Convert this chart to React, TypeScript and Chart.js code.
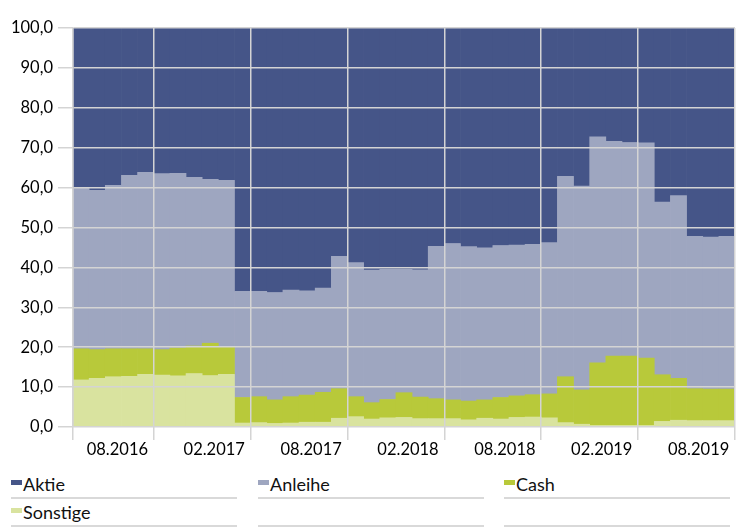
import React, { useEffect, useRef } from "react";
import { Chart, registerables } from "chart.js";

Chart.register(...registerables);

const months = [
  "06.2016", "07.2016", "08.2016", "09.2016", "10.2016", "11.2016", "12.2016",
  "01.2017", "02.2017", "03.2017", "04.2017", "05.2017", "06.2017", "07.2017", "08.2017", "09.2017", "10.2017", "11.2017", "12.2017",
  "01.2018", "02.2018", "03.2018", "04.2018", "05.2018", "06.2018", "07.2018", "08.2018", "09.2018", "10.2018", "11.2018", "12.2018",
  "01.2019", "02.2019", "03.2019", "04.2019", "05.2019", "06.2019", "07.2019", "08.2019", "09.2019", "10.2019",
];

const tickLabels = ["08.2016", "02.2017", "08.2017", "02.2018", "08.2018", "02.2019", "08.2019"];
const gridMonths = ["06.2016", "11.2016", "05.2017", "11.2017", "05.2018", "11.2018", "05.2019"];

const sonstige = [11.8, 12.2, 12.6, 12.7, 13.2, 13.0, 12.8, 13.4, 12.9, 13.2,
  1.0, 1.1, 0.9, 1.0, 1.2, 1.2, 2.2, 2.6, 2.0, 2.3, 2.4, 2.1,
  2.1, 2.1, 1.8, 2.2, 2.0, 2.4, 2.5, 2.3,
  1.1, 0.7, 0.4, 0.4, 0.4, 0.4, 1.4, 1.7, 1.6, 1.6, 1.6];
const cash = [7.8, 7.2, 7.0, 6.9, 6.4, 6.4, 7.0, 6.9, 8.1, 6.8,
  6.4, 6.5, 5.9, 6.6, 6.8, 7.5, 7.4, 5.0, 4.1, 4.6, 6.2, 5.4,
  5.0, 4.7, 4.7, 4.6, 5.4, 5.4, 5.6, 6.0,
  11.5, 8.6, 15.7, 17.4, 17.4, 16.9, 11.7, 10.5, 8.0, 7.9, 7.9];
const anleihe = [40.4, 39.9, 41.0, 43.5, 44.2, 44.1, 43.8, 42.3, 41.1, 41.8,
  26.6, 26.4, 26.9, 26.7, 26.1, 26.1, 33.2, 33.6, 33.2, 32.6, 30.9, 31.9,
  38.2, 39.2, 38.7, 38.1, 38.1, 37.8, 37.7, 37.9,
  50.2, 51.1, 56.6, 53.8, 53.5, 53.9, 43.3, 45.8, 38.2, 38.1, 38.3];
const aktie = [40.0, 40.7, 39.4, 36.9, 36.2, 36.5, 36.4, 37.4, 37.9, 38.2,
  66.0, 66.0, 66.3, 65.7, 65.9, 65.2, 57.2, 58.8, 60.7, 60.5, 60.5, 60.6,
  54.7, 54.0, 54.8, 55.1, 54.5, 54.4, 54.2, 53.8,
  37.2, 39.6, 27.3, 28.4, 28.7, 28.8, 43.6, 42.0, 52.2, 52.4, 52.2];

const seriesNames = ["Aktie", "Anleihe", "Cash", "Sonstige"];
const seriesColors = ["#455588", "#9ea6c0", "#b8c93a", "#d9e39f"];

const FONT = "Lato, 'Open Sans', sans-serif";
const GRID = "#d4d4d4";

export default function App() {
  const ref = useRef<HTMLCanvasElement>(null);

  useEffect(() => {
    document.body.style.margin = "0";
    const ctx = ref.current!;
    const chart = new Chart(ctx, {
      type: "bar",
      data: {
        labels: months,
        datasets: [
          { label: "Sonstige", data: sonstige, backgroundColor: seriesColors[3] },
          { label: "Cash", data: cash, backgroundColor: seriesColors[2] },
          { label: "Anleihe", data: anleihe, backgroundColor: seriesColors[1] },
          { label: "Aktie", data: aktie, backgroundColor: seriesColors[0] },
        ].map((d) => ({ ...d, borderWidth: 0, barPercentage: 1, categoryPercentage: 1 })),
      },
      options: {
        animation: false,
        responsive: false,
        devicePixelRatio: 1,
        layout: { padding: { top: 28, right: 9, left: 0, bottom: 0 } },
        plugins: { legend: { display: false }, tooltip: { enabled: false } },
        scales: {
          x: {
            stacked: true,
            border: { display: false, z: 1 },
            grid: {
              z: 1,
              offset: true,
              lineWidth: 1.5,
              tickLength: 13,
              color: (c: any) => {
                if (c.index === undefined) return GRID;
                return gridMonths.includes(months[c.index]) ? GRID : "rgba(0,0,0,0)";
              },
            },
            ticks: {
              z: 1,
              autoSkip: false,
              maxRotation: 0,
              minRotation: 0,
              padding: 0,
              labelOffset: 4,
              color: "#000",
              font: { family: FONT, size: 16.5 },
              callback: (_v: any, i: number) => (tickLabels.includes(months[i]) ? months[i] : ""),
            },
            afterFit: (s: any) => {
              s.height = 35;
            },
          },
          y: {
            stacked: true,
            min: 0,
            max: 100,
            border: { display: true, color: GRID, width: 1.5, z: 1 },
            grid: { z: 1, color: GRID, lineWidth: 1.5, tickLength: 15 },
            ticks: {
              z: 1,
              stepSize: 10,
              padding: 5,
              color: "#000",
              font: { family: FONT, size: 16.5 },
              callback: (v: any) => Number(v).toFixed(1).replace(".", ","),
            },
            afterFit: (s: any) => {
              s.width = 73;
            },
          },
        },
      },
    });
    return () => chart.destroy();
  }, []);

  const cols = [11, 258, 504];
  const rows = [473.7, 501.5];
  const markerTops = [480, 507.5];
  const underlineTops = [497, 524.5];

  return (
    <div style={{ position: "relative", width: 744, height: 527, overflow: "hidden", background: "#fff" }}>
      <canvas ref={ref} width={744} height={462} style={{ display: "block" }} />
      {seriesNames.map((name, i) => {
        const col = i % 3;
        const row = Math.floor(i / 3);
        return (
          <div key={name}>
            <div
              style={{
                position: "absolute",
                left: cols[col],
                top: markerTops[row],
                width: 11,
                height: 5,
                background: seriesColors[i],
              }}
            />
            <div
              style={{
                position: "absolute",
                left: cols[col] + 12,
                top: rows[row],
                fontFamily: FONT,
                fontSize: 18,
                lineHeight: "20px",
                color: "#111",
                whiteSpace: "nowrap",
              }}
            >
              {name}
            </div>
          </div>
        );
      })}
      {[0, 1].map((r) =>
        cols.map((c) => (
          <div
            key={`u${r}-${c}`}
            style={{ position: "absolute", left: c, top: underlineTops[r], width: 226, height: 2, background: "#d9d9d9" }}
          />
        ))
      )}
    </div>
  );
}
